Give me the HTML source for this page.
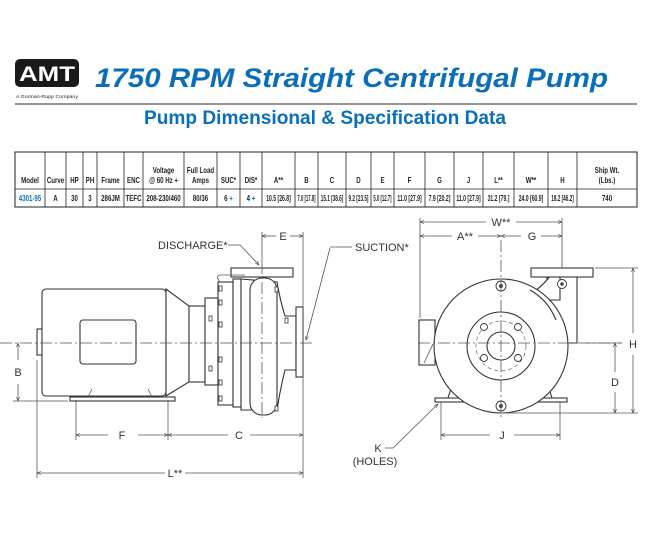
<!DOCTYPE html>
<html><head><meta charset="utf-8"><style>
html,body{margin:0;padding:0;background:#fff;}
svg{display:block;}
.h,.d{font-family:"Liberation Sans",sans-serif;font-weight:bold;font-size:8.5px;fill:#222;text-anchor:middle;}
.l{font-family:"Liberation Sans",sans-serif;font-size:11px;fill:#333;}
.dl{stroke:#555;stroke-width:0.8;fill:none;}
.o{stroke:#333;stroke-width:1.1;fill:#fff;}
.c{stroke:#555;stroke-width:0.8;stroke-dasharray:12 3 2 3;fill:none;}
</style></head><body>
<svg width="650" height="539" viewBox="0 0 650 539" xmlns="http://www.w3.org/2000/svg">
<defs>
<marker id="a" viewBox="0 0 10 10" refX="10" refY="5" markerWidth="7" markerHeight="5" orient="auto-start-reverse"><path d="M0,1 L10,5 L0,9" fill="none" stroke="#444" stroke-width="1.4"/></marker>
</defs>
<rect x="15" y="59" width="64" height="28" rx="5" fill="#1a1a1a"/>
<text x="47" y="81" font-family="Liberation Sans,sans-serif" font-weight="bold" font-size="21" fill="#fff" text-anchor="middle" textLength="56" lengthAdjust="spacingAndGlyphs">AMT</text>
<text x="16" y="98" font-family="Liberation Sans,sans-serif" font-size="4.5" fill="#222" textLength="62" lengthAdjust="spacingAndGlyphs">A Gorman-Rupp Company</text>
<text x="95" y="87" font-family="Liberation Sans,sans-serif" font-weight="bold" font-style="italic" font-size="27" fill="#0a6fb8" textLength="513" lengthAdjust="spacingAndGlyphs">1750 RPM Straight Centrifugal Pump</text>
<line x1="15" y1="104" x2="637" y2="104" stroke="#555" stroke-width="1.3"/>
<text x="325" y="124" font-family="Liberation Sans,sans-serif" font-weight="bold" font-size="19" fill="#0a6fb8" text-anchor="middle" textLength="362" lengthAdjust="spacingAndGlyphs">Pump Dimensional &amp; Specification Data</text>
<rect x="15" y="152" width="622" height="55" fill="none" stroke="#222" stroke-width="1"/>
<line x1="15" y1="189" x2="637" y2="189" stroke="#222" stroke-width="0.8"/>
<g stroke="#222" stroke-width="0.8">
<line x1="45" y1="152" x2="45" y2="207"/><line x1="66" y1="152" x2="66" y2="207"/><line x1="83" y1="152" x2="83" y2="207"/><line x1="97" y1="152" x2="97" y2="207"/><line x1="124" y1="152" x2="124" y2="207"/><line x1="143" y1="152" x2="143" y2="207"/><line x1="184" y1="152" x2="184" y2="207"/><line x1="217" y1="152" x2="217" y2="207"/><line x1="240" y1="152" x2="240" y2="207"/><line x1="262" y1="152" x2="262" y2="207"/><line x1="295" y1="152" x2="295" y2="207"/><line x1="318" y1="152" x2="318" y2="207"/><line x1="346" y1="152" x2="346" y2="207"/><line x1="371" y1="152" x2="371" y2="207"/><line x1="394" y1="152" x2="394" y2="207"/><line x1="425" y1="152" x2="425" y2="207"/><line x1="454" y1="152" x2="454" y2="207"/><line x1="483" y1="152" x2="483" y2="207"/><line x1="514" y1="152" x2="514" y2="207"/><line x1="548" y1="152" x2="548" y2="207"/><line x1="577" y1="152" x2="577" y2="207"/>
</g>
<g class="h">
<text transform="translate(30,183) scale(0.72,1)">Model</text>
<text transform="translate(55.5,183) scale(0.72,1)">Curve</text>
<text transform="translate(74.5,183) scale(0.72,1)">HP</text>
<text transform="translate(90,183) scale(0.72,1)">PH</text>
<text transform="translate(110.5,183) scale(0.72,1)">Frame</text>
<text transform="translate(133.5,183) scale(0.72,1)">ENC</text>
<text transform="translate(163.5,173) scale(0.72,1)">Voltage</text>
<text transform="translate(163.5,183) scale(0.72,1)">@ 60 Hz +</text>
<text transform="translate(200.5,173) scale(0.72,1)">Full Load</text>
<text transform="translate(200.5,183) scale(0.72,1)">Amps</text>
<text transform="translate(228.5,183) scale(0.72,1)">SUC*</text>
<text transform="translate(251,183) scale(0.72,1)">DIS*</text>
<text transform="translate(278.5,183) scale(0.72,1)">A**</text>
<text transform="translate(306.5,183) scale(0.72,1)">B</text>
<text transform="translate(332,183) scale(0.72,1)">C</text>
<text transform="translate(358.5,183) scale(0.72,1)">D</text>
<text transform="translate(382.5,183) scale(0.72,1)">E</text>
<text transform="translate(409.5,183) scale(0.72,1)">F</text>
<text transform="translate(439.5,183) scale(0.72,1)">G</text>
<text transform="translate(468.5,183) scale(0.72,1)">J</text>
<text transform="translate(498.5,183) scale(0.72,1)">L**</text>
<text transform="translate(531,183) scale(0.72,1)">W**</text>
<text transform="translate(562.5,183) scale(0.72,1)">H</text>
<text transform="translate(607,173) scale(0.72,1)">Ship Wt.</text>
<text transform="translate(607,183) scale(0.72,1)">(Lbs.)</text>
</g>
<g class="d">
<text transform="translate(30,201) scale(0.72,1)" style="fill:#0a6fb8">4301-95</text>
<text transform="translate(55.5,201) scale(0.72,1)">A</text>
<text transform="translate(74.5,201) scale(0.72,1)">30</text>
<text transform="translate(90,201) scale(0.72,1)">3</text>
<text transform="translate(110.5,201) scale(0.72,1)">286JM</text>
<text transform="translate(133.5,201) scale(0.72,1)">TEFC</text>
<text transform="translate(163.5,201) scale(0.72,1)">208-230/460</text>
<text transform="translate(200.5,201) scale(0.72,1)">80/36</text>
<text transform="translate(228.5,201) scale(0.72,1)">6 <tspan fill="#0a6fb8">+</tspan></text>
<text transform="translate(251,201) scale(0.72,1)">4 <tspan fill="#0a6fb8">+</tspan></text>
<text transform="translate(278.5,201) scale(0.6,1)">10.5 [26.8]</text>
<text transform="translate(306.5,201) scale(0.5,1)">7.0 [17.8]</text>
<text transform="translate(332,201) scale(0.55,1)">15.1 [38.6]</text>
<text transform="translate(358.5,201) scale(0.55,1)">9.2 [23.5]</text>
<text transform="translate(382.5,201) scale(0.5,1)">5.0 [12.7]</text>
<text transform="translate(409.5,201) scale(0.6,1)">11.0 [27.9]</text>
<text transform="translate(439.5,201) scale(0.6,1)">7.9 [20.2]</text>
<text transform="translate(468.5,201) scale(0.6,1)">11.0 [27.9]</text>
<text transform="translate(498.5,201) scale(0.6,1)">31.2 [79.]</text>
<text transform="translate(531,201) scale(0.6,1)">24.0 [60.9]</text>
<text transform="translate(562.5,201) scale(0.55,1)">18.2 [46.2]</text>
<text transform="translate(607,201) scale(0.72,1)">740</text>
</g>
<g>
<rect class="o" x="37" y="329" width="6" height="26"/>
<rect class="o" x="42" y="289" width="124" height="107" rx="4"/>
<rect class="o" x="80" y="320" width="56" height="44" rx="3"/>
<path class="o" d="M166,289 L189,306 L189,382 L166,396 Z"/>
<rect class="o" x="189" y="306" width="16" height="76"/>
<rect class="o" x="205" y="298" width="13" height="87"/>
<rect class="o" x="218" y="282" width="15" height="123"/>
<rect class="o" x="233" y="279" width="8" height="128"/>
<path class="o" d="M241,279 L277,282 Q280,300 285,316 L296,316 L296,370 L285,370 Q280,390 277,410 L241,410 Z"/>
<rect class="o" x="250" y="278" width="27" height="137" rx="12"/>
<rect class="o" x="231" y="268" width="62" height="9"/>
<rect class="o" x="296" y="307" width="7" height="70"/>
<path d="M220,282 Q215,276 220,275 L245,275" class="dl"/>
<rect class="o" x="70" y="397" width="105" height="4"/>
<line x1="88" y1="397" x2="92" y2="389" class="dl"/><line x1="152" y1="397" x2="148" y2="389" class="dl"/>
<g fill="#fff" stroke="#333" stroke-width="0.8">
<rect x="219" y="286" width="3" height="5"/><rect x="219" y="300" width="3" height="5"/><rect x="219" y="322" width="3" height="5"/><rect x="219" y="357" width="3" height="5"/><rect x="219" y="380" width="3" height="5"/><rect x="219" y="396" width="3" height="5"/>
<rect x="209" y="316" width="3" height="5"/><rect x="209" y="366" width="3" height="5"/><rect x="275" y="287" width="3" height="5"/><rect x="275" y="406" width="3" height="5"/><rect x="285" y="318" width="3" height="5"/>
</g>
<line class="c" x1="0" y1="343" x2="312" y2="343"/>
<line class="c" x1="262" y1="262" x2="262" y2="418"/>
<line class="dl" x1="262" y1="232" x2="262" y2="262"/>
<line class="dl" x1="303" y1="232" x2="303" y2="478"/>
<line class="dl" x1="262" y1="236" x2="276" y2="236" marker-start="url(#a)"/><line class="dl" x1="290" y1="236" x2="303" y2="236" marker-end="url(#a)"/>
<text class="l" x="283" y="240" text-anchor="middle">E</text>
<text class="l" x="158" y="249">DISCHARGE*</text>
<path class="dl" d="M228,245 L240,245 L259,265" marker-end="url(#a)"/>
<path class="dl" d="M330,248 L306,340" marker-end="url(#a)"/>
<line class="dl" x1="330" y1="247" x2="352" y2="247"/>
<text class="l" x="355" y="251">SUCTION*</text>
<line class="dl" x1="37" y1="360" x2="37" y2="478"/>
<line class="dl" x1="76" y1="400" x2="76" y2="440"/>
<line class="dl" x1="168" y1="400" x2="168" y2="440"/>
<line class="dl" x1="13" y1="401" x2="68" y2="401"/>
<line class="dl" x1="37" y1="473" x2="165" y2="473" marker-start="url(#a)"/><line class="dl" x1="185" y1="473" x2="303" y2="473" marker-end="url(#a)"/>
<text class="l" x="175" y="477" text-anchor="middle">L**</text>
<line class="dl" x1="76" y1="435" x2="108" y2="435" marker-start="url(#a)"/><line class="dl" x1="138" y1="435" x2="168" y2="435" marker-end="url(#a)"/>
<text class="l" x="122" y="439" text-anchor="middle">F</text>
<line class="dl" x1="168" y1="435" x2="228" y2="435" marker-start="url(#a)"/><line class="dl" x1="250" y1="435" x2="303" y2="435" marker-end="url(#a)"/>
<text class="l" x="239" y="439" text-anchor="middle">C</text>
<line class="dl" x1="18" y1="343" x2="18" y2="360" marker-start="url(#a)"/><line class="dl" x1="18" y1="384" x2="18" y2="401" marker-end="url(#a)"/>
<text class="l" x="18" y="376" text-anchor="middle">B</text>
</g>
<g>
<rect class="o" x="419" y="320" width="16" height="45"/>
<line class="dl" x1="424" y1="363" x2="433" y2="344"/>
<rect class="o" x="435" y="398" width="132" height="4"/>
<path class="o" d="M448,398 L452,385 L548,385 L552,398 Z"/>
<path class="o" d="M547,276 L547,343 L577,343 L577,276 Z"/>
<path class="o" d="M520,300 Q540,290 550,276 L560,276 L560,300 Z"/>
<circle class="o" cx="501" cy="346" r="67"/>
<path class="o" d="M530,290 Q548,300 556,320" fill="none"/>
<circle class="o" cx="501" cy="346" r="34"/>
<circle cx="501" cy="346" r="25" fill="none" stroke="#666" stroke-width="0.7" stroke-dasharray="4 3"/>
<circle class="o" cx="501" cy="346" r="14"/>
<g fill="#fff" stroke="#333" stroke-width="0.9">
<circle cx="484" cy="327" r="3.5"/><circle cx="518" cy="327" r="3.5"/><circle cx="484" cy="358" r="3.5"/><circle cx="518" cy="358" r="3.5"/>
<circle cx="501" cy="286" r="5"/><circle cx="501" cy="406" r="5"/><circle cx="562" cy="284" r="4.5"/>
</g>
<circle cx="501" cy="286" r="2" fill="#444"/><circle cx="501" cy="406" r="2" fill="#444"/><circle cx="562" cy="284" r="1.8" fill="#444"/>
<rect class="o" x="531" y="268" width="62" height="9"/>
<line class="c" x1="418" y1="343" x2="622" y2="343"/>
<line class="c" x1="501" y1="240" x2="501" y2="420"/>
<line class="dl" x1="420" y1="218" x2="420" y2="318"/>
<line class="dl" x1="562" y1="218" x2="562" y2="268"/>
<line class="dl" x1="420" y1="222" x2="486" y2="222" marker-start="url(#a)"/><line class="dl" x1="516" y1="222" x2="562" y2="222" marker-end="url(#a)"/>
<text class="l" x="501" y="226" text-anchor="middle">W**</text>
<line class="dl" x1="420" y1="236" x2="452" y2="236" marker-start="url(#a)"/><line class="dl" x1="478" y1="236" x2="501" y2="236" marker-end="url(#a)"/>
<text class="l" x="465" y="240" text-anchor="middle">A**</text>
<line class="dl" x1="501" y1="236" x2="521" y2="236" marker-start="url(#a)"/><line class="dl" x1="541" y1="236" x2="562" y2="236" marker-end="url(#a)"/>
<text class="l" x="532" y="240" text-anchor="middle">G</text>
<line class="dl" x1="595" y1="268" x2="638" y2="268"/>
<line class="dl" x1="585" y1="343" x2="622" y2="343"/>
<line class="dl" x1="501" y1="413" x2="638" y2="413"/>
<line class="dl" x1="633" y1="268" x2="633" y2="333" marker-start="url(#a)"/><line class="dl" x1="633" y1="355" x2="633" y2="413" marker-end="url(#a)"/>
<text class="l" x="633" y="348" text-anchor="middle">H</text>
<line class="dl" x1="615" y1="343" x2="615" y2="372" marker-start="url(#a)"/><line class="dl" x1="615" y1="392" x2="615" y2="413" marker-end="url(#a)"/>
<text class="l" x="615" y="386" text-anchor="middle">D</text>
<line class="dl" x1="441" y1="402" x2="441" y2="440"/><line class="dl" x1="560" y1="402" x2="560" y2="440"/>
<line class="dl" x1="441" y1="435" x2="490" y2="435" marker-start="url(#a)"/><line class="dl" x1="514" y1="435" x2="560" y2="435" marker-end="url(#a)"/>
<text class="l" x="502" y="439" text-anchor="middle">J</text>
<path class="dl" d="M385,448 L393,448 L438,404" marker-end="url(#a)"/>
<text class="l" x="378" y="452" text-anchor="middle">K</text>
<text class="l" x="375" y="465" text-anchor="middle">(HOLES)</text>
</g>
</svg>
</body></html>
